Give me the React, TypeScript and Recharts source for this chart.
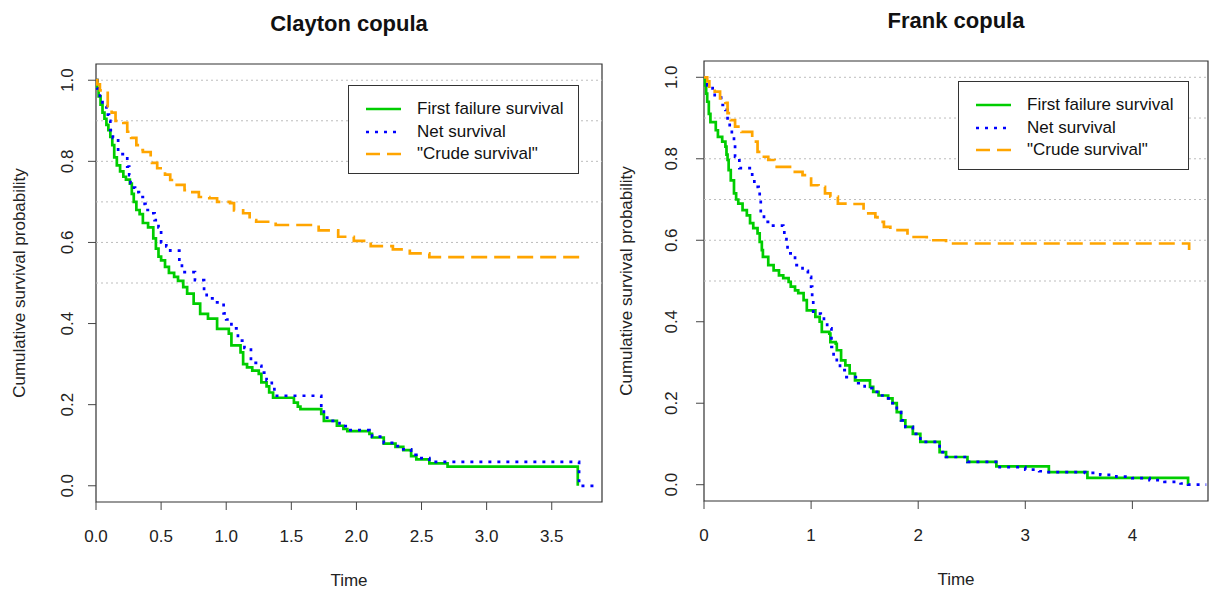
import {
  LineChart,
  Line,
  XAxis,
  YAxis,
  ReferenceLine,
  ReferenceArea,
} from "recharts";

const FONT = '"Liberation Sans", Arial, Helvetica, sans-serif';

type Row = [number, number];

const SERIES_NAMES = ["First failure survival", "Net survival", '"Crude survival"'];
const SERIES_COLORS = ["#00cd00", "#0000ff", "#ffa500"];
const SERIES_DASH = [undefined, "3 6", "16 7"];
const LEGEND_DASH = [undefined, "3 6", "14 7"];

const Y_TICKS = [0, 0.2, 0.4, 0.6, 0.8, 1];
const GRID_VALUES = [0.5, 0.6, 0.7, 0.8, 0.9, 1];
const CLAYTON_X_TICKS = [0, 0.5, 1, 1.5, 2, 2.5, 3, 3.5];
const FRANK_X_TICKS = [0, 1, 2, 3, 4];

// [time, survival] at each step of the curves
const claytonFirst: Row[] = [
  [0, 1], [0.01, 0.98], [0.02, 0.96], [0.035, 0.94], [0.05, 0.92], [0.065, 0.905],
  [0.08, 0.89], [0.095, 0.877], [0.11, 0.86], [0.125, 0.84], [0.14, 0.81], [0.16, 0.79],
  [0.185, 0.775], [0.21, 0.762], [0.23, 0.755], [0.26, 0.745], [0.275, 0.72], [0.29, 0.7],
  [0.31, 0.68], [0.335, 0.67], [0.36, 0.648], [0.4, 0.637], [0.44, 0.61], [0.46, 0.585],
  [0.48, 0.565], [0.5, 0.556], [0.53, 0.54], [0.56, 0.525], [0.6, 0.515], [0.63, 0.505],
  [0.67, 0.49], [0.7, 0.474], [0.75, 0.449], [0.8, 0.424], [0.86, 0.412], [0.93, 0.387],
  [1.02, 0.375], [1.04, 0.346], [1.11, 0.329], [1.13, 0.3], [1.16, 0.292], [1.2, 0.284],
  [1.25, 0.276], [1.27, 0.255], [1.31, 0.245], [1.33, 0.23], [1.36, 0.217], [1.52, 0.205],
  [1.55, 0.195], [1.57, 0.189], [1.73, 0.177], [1.75, 0.16], [1.85, 0.148], [1.9, 0.14],
  [1.93, 0.135], [2.1, 0.128], [2.12, 0.119], [2.21, 0.104], [2.3, 0.096], [2.36, 0.088],
  [2.42, 0.073], [2.46, 0.065], [2.56, 0.055], [2.7, 0.047], [3.7, 0],
];

const claytonNet: Row[] = [
  [0, 1], [0.01, 0.98], [0.03, 0.955], [0.05, 0.936], [0.08, 0.915], [0.1, 0.9],
  [0.11, 0.877], [0.13, 0.858], [0.17, 0.818], [0.24, 0.787], [0.255, 0.766], [0.265, 0.747],
  [0.28, 0.735], [0.3, 0.724], [0.33, 0.712], [0.36, 0.695], [0.38, 0.68], [0.42, 0.672],
  [0.45, 0.655], [0.48, 0.637], [0.5, 0.6], [0.54, 0.59], [0.57, 0.58], [0.64, 0.551],
  [0.66, 0.527], [0.76, 0.507], [0.83, 0.48], [0.85, 0.462], [0.91, 0.452], [0.98, 0.425],
  [1.0, 0.41], [1.04, 0.388], [1.09, 0.358], [1.14, 0.34], [1.19, 0.303], [1.25, 0.296],
  [1.27, 0.279], [1.31, 0.26], [1.35, 0.242], [1.37, 0.222], [1.73, 0.193], [1.75, 0.168],
  [1.8, 0.16], [1.87, 0.147], [1.93, 0.137], [2.1, 0.13], [2.12, 0.121], [2.21, 0.106],
  [2.3, 0.098], [2.36, 0.09], [2.42, 0.076], [2.46, 0.068], [2.56, 0.059], [3.71, 0],
  [3.85, 0],
];

const claytonCrude: Row[] = [
  [0, 1], [0.01, 0.99], [0.03, 0.975], [0.09, 0.936], [0.12, 0.92], [0.15, 0.9],
  [0.21, 0.895], [0.24, 0.873], [0.27, 0.858], [0.31, 0.84], [0.34, 0.828], [0.36, 0.823],
  [0.42, 0.811], [0.43, 0.796], [0.47, 0.783], [0.53, 0.767], [0.57, 0.754], [0.62, 0.742],
  [0.68, 0.729], [0.74, 0.724], [0.79, 0.712], [0.87, 0.709], [0.93, 0.7], [1.03, 0.697],
  [1.06, 0.679], [1.13, 0.672], [1.18, 0.655], [1.23, 0.651], [1.38, 0.643], [1.71, 0.63],
  [1.86, 0.614], [1.98, 0.604], [2.11, 0.591], [2.28, 0.583], [2.41, 0.573], [2.56, 0.564],
  [3.72, 0.55],
];

const frankFirst: Row[] = [
  [0, 1], [0.01, 0.98], [0.02, 0.96], [0.03, 0.94], [0.045, 0.91], [0.06, 0.89],
  [0.11, 0.87], [0.13, 0.854], [0.17, 0.842], [0.2, 0.83], [0.21, 0.81], [0.22, 0.797],
  [0.23, 0.772], [0.25, 0.747], [0.28, 0.715], [0.3, 0.7], [0.32, 0.69], [0.36, 0.674],
  [0.4, 0.661], [0.43, 0.642], [0.46, 0.63], [0.5, 0.617], [0.52, 0.596], [0.54, 0.576],
  [0.55, 0.559], [0.6, 0.539], [0.65, 0.526], [0.7, 0.514], [0.74, 0.507], [0.79, 0.498],
  [0.81, 0.486], [0.85, 0.477], [0.88, 0.47], [0.93, 0.453], [0.96, 0.428], [1.04, 0.412],
  [1.08, 0.4], [1.1, 0.375], [1.17, 0.371], [1.18, 0.35], [1.23, 0.346], [1.24, 0.33],
  [1.28, 0.305], [1.32, 0.293], [1.36, 0.273], [1.41, 0.256], [1.55, 0.24], [1.58, 0.228],
  [1.63, 0.219], [1.72, 0.212], [1.76, 0.2], [1.8, 0.178], [1.84, 0.158], [1.88, 0.142],
  [1.95, 0.125], [2.02, 0.105], [2.2, 0.08], [2.26, 0.068], [2.46, 0.056], [2.73, 0.045],
  [3.22, 0.031], [3.58, 0.017], [4.52, 0],
];

const frankNet: Row[] = [
  [0, 1], [0.03, 0.98], [0.08, 0.973], [0.1, 0.95], [0.16, 0.932], [0.19, 0.927],
  [0.2, 0.92], [0.22, 0.89], [0.24, 0.87], [0.26, 0.854], [0.28, 0.834], [0.29, 0.805],
  [0.33, 0.777], [0.45, 0.756], [0.47, 0.731], [0.51, 0.723], [0.52, 0.707], [0.53, 0.666],
  [0.56, 0.645], [0.62, 0.636], [0.74, 0.629], [0.75, 0.613], [0.77, 0.59], [0.78, 0.568],
  [0.85, 0.539], [0.92, 0.525], [0.97, 0.51], [1.0, 0.486], [1.01, 0.453], [1.02, 0.42],
  [1.09, 0.416], [1.12, 0.4], [1.15, 0.384], [1.19, 0.338], [1.21, 0.314], [1.24, 0.301],
  [1.27, 0.281], [1.33, 0.264], [1.44, 0.249], [1.5, 0.237], [1.57, 0.228], [1.63, 0.219],
  [1.72, 0.212], [1.76, 0.2], [1.8, 0.178], [1.84, 0.158], [1.88, 0.142], [1.95, 0.125],
  [2.02, 0.105], [2.2, 0.08], [2.26, 0.068], [2.46, 0.056], [2.76, 0.043], [3.0, 0.037],
  [3.13, 0.033], [3.19, 0.031], [3.56, 0.029], [3.7, 0.024], [3.85, 0.02], [4.0, 0.016],
  [4.16, 0.011], [4.3, 0.007], [4.45, 0.003], [4.52, 0], [4.69, 0],
];

const frankCrude: Row[] = [
  [0, 1], [0.03, 0.99], [0.05, 0.973], [0.1, 0.965], [0.15, 0.948], [0.2, 0.937],
  [0.22, 0.912], [0.25, 0.895], [0.29, 0.879], [0.35, 0.866], [0.45, 0.85], [0.47, 0.842],
  [0.5, 0.817], [0.54, 0.805], [0.6, 0.797], [0.66, 0.78], [0.83, 0.768], [0.92, 0.76],
  [0.98, 0.756], [1.0, 0.735], [1.07, 0.731], [1.13, 0.715], [1.18, 0.707], [1.25, 0.69],
  [1.36, 0.689], [1.49, 0.666], [1.6, 0.657], [1.62, 0.645], [1.68, 0.633], [1.74, 0.625],
  [1.9, 0.608], [2.08, 0.6], [2.26, 0.592], [4.53, 0.576],
];

const toPts = (rows: Row[]) => rows.map(([t, s]) => ({ t, s }));

function YTick(props: any) {
  const { y, payload, labelX } = props;
  return (
    <text
      x={labelX}
      y={y}
      dy="0.35em"
      textAnchor="middle"
      transform={`rotate(-90 ${labelX} ${y})`}
      fill="#222"
      fontSize={17}
      fontFamily={FONT}
    >
      {Number(payload.value).toFixed(1)}
    </text>
  );
}

function YTitle(props: any) {
  const vb = props.viewBox || { y: 64, height: 438 };
  const cx = props.cx;
  const cy = vb.y + vb.height / 2;
  return (
    <text
      x={cx}
      y={cy}
      dy="0.35em"
      textAnchor="middle"
      transform={`rotate(-90 ${cx} ${cy})`}
      fill="#222"
      fontSize={17}
      fontFamily={FONT}
    >
      Cumulative survival probability
    </text>
  );
}

function XTitle(props: any) {
  const vb = props.viewBox || { x: 96, y: 502, width: 506 };
  return (
    <text
      x={vb.x + vb.width / 2}
      y={vb.y + 84}
      textAnchor="middle"
      fill="#222"
      fontSize={17}
      fontFamily={FONT}
    >
      Time
    </text>
  );
}

function LegendBox({ left, top }: { left: number; top: number }) {
  return (
    <div
      style={{
        position: "absolute",
        left,
        top,
        width: 229,
        height: 87,
        border: "1px solid #333",
        background: "#fff",
        fontFamily: FONT,
        fontSize: 17,
        color: "#111",
      }}
    >
      {SERIES_NAMES.map((name, i) => (
        <div
          key={name}
          style={{
            position: "absolute",
            left: 0,
            top: 12 + i * 22.5,
            height: 22,
            display: "flex",
            alignItems: "center",
            whiteSpace: "nowrap",
          }}
        >
          <svg width={68} height={22}>
            <line
              x1={17}
              x2={52}
              y1={11}
              y2={11}
              stroke={SERIES_COLORS[i]}
              strokeWidth={2.7}
              strokeDasharray={LEGEND_DASH[i]}
            />
          </svg>
          <span>{name}</span>
        </div>
      ))}
    </div>
  );
}

type PanelProps = {
  left: number;
  title: string;
  titleTop: number;
  first: Row[];
  net: Row[];
  crude: Row[];
  xMax: number;
  xTicks: number[];
  xDigits: number;
  plotLeft: number;
  plotTop: number;
  plotBottom: number;
  plotRight: number;
  tickLabelX: number;
  axisTitleX: number;
  legendLeft: number;
  legendTop: number;
};

function Panel(p: PanelProps) {
  const W = 605;
  const H = 592;
  const series = [p.first, p.net, p.crude];
  return (
    <div style={{ position: "absolute", left: p.left, top: 0, width: W, height: H }}>
      <div
        style={{
          position: "absolute",
          left: 0,
          top: p.titleTop,
          width: W,
          paddingLeft: p.plotLeft,
          paddingRight: W - p.plotRight,
          boxSizing: "border-box",
          textAlign: "center",
          fontFamily: FONT,
          fontWeight: "bold",
          fontSize: 22,
          lineHeight: "22px",
          color: "#111",
        }}
      >
        {p.title}
      </div>
      <LineChart
        width={W}
        height={H}
        margin={{ top: p.plotTop, right: W - p.plotRight, bottom: 0, left: 0 }}
      >
        <XAxis
          type="number"
          dataKey="t"
          domain={[0, p.xMax]}
          ticks={p.xTicks}
          interval={0}
          tickFormatter={(v: number) => v.toFixed(p.xDigits)}
          height={H - p.plotBottom}
          axisLine={false}
          stroke="#444"
          tickSize={8}
          tickMargin={20}
          tick={{ fill: "#222", fontSize: 17, fontFamily: FONT }}
          label={<XTitle />}
        />
        <YAxis
          type="number"
          domain={[-0.04, 1.04]}
          ticks={Y_TICKS}
          interval={0}
          width={p.plotLeft}
          axisLine={false}
          stroke="#444"
          tickSize={8}
          tick={<YTick labelX={p.tickLabelX} />}
          label={<YTitle cx={p.axisTitleX} />}
        />
        {GRID_VALUES.map((v) => (
          <ReferenceLine
            key={v}
            y={v}
            stroke="#bdbdbd"
            strokeDasharray="2 3"
            strokeWidth={1}
          />
        ))}
        {series.map((rows, i) => (
          <Line
            key={SERIES_NAMES[i]}
            data={toPts(rows)}
            dataKey="s"
            name={SERIES_NAMES[i]}
            type="stepAfter"
            stroke={SERIES_COLORS[i]}
            strokeWidth={2.7}
            strokeDasharray={SERIES_DASH[i]}
            dot={false}
            activeDot={false}
            isAnimationActive={false}
          />
        ))}
        <ReferenceArea
          x1={0}
          x2={p.xMax}
          y1={-0.04}
          y2={1.04}
          fill="none"
          fillOpacity={0}
          stroke="#333"
          strokeWidth={1.2}
        />
      </LineChart>
      <LegendBox left={p.legendLeft} top={p.legendTop} />
    </div>
  );
}

export default function App() {
  return (
    <div
      style={{
        position: "absolute",
        left: 0,
        top: 0,
        width: 1210,
        height: 592,
        background: "#fff",
        overflow: "hidden",
      }}
    >
      <Panel
        left={0}
        title="Clayton copula"
        titleTop={13}
        first={claytonFirst}
        net={claytonNet}
        crude={claytonCrude}
        xMax={3.886}
        xTicks={CLAYTON_X_TICKS}
        xDigits={1}
        plotLeft={96}
        plotTop={64}
        plotBottom={502}
        plotRight={602}
        tickLabelX={67}
        axisTitleX={19}
        legendLeft={348}
        legendTop={85}
      />
      <Panel
        left={605}
        title="Frank copula"
        titleTop={10}
        first={frankFirst}
        net={frankNet}
        crude={frankCrude}
        xMax={4.706}
        xTicks={FRANK_X_TICKS}
        xDigits={0}
        plotLeft={99}
        plotTop={61}
        plotBottom={501}
        plotRight={603}
        tickLabelX={66}
        axisTitleX={21}
        legendLeft={353}
        legendTop={81}
      />
    </div>
  );
}
